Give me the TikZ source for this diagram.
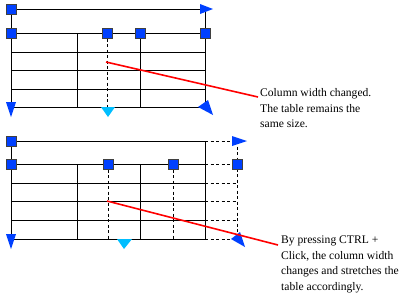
\documentclass[tikz,border=0pt]{standalone}
\usepackage{fontspec}
\setmainfont{Liberation Serif}
\usetikzlibrary{positioning}

\definecolor{gripblue}{RGB}{0,64,255}
\definecolor{lightblue}{RGB}{0,190,255}

\begin{document}
\begin{tikzpicture}[
    x=1pt, y=-1pt,
    grip/.style={
        draw=black!75,
        fill=gripblue,
        minimum size=10pt,
        inner sep=0pt,
        line width=0.8pt
    },
    gridline/.style={line width=0.8pt},
    extline/.style={line width=0.8pt, dash pattern=on 3pt off 2.5pt},
    pointer/.style={red, line width=1.6pt},
    note/.style={
        font=\fontsize{11.6}{15.4}\selectfont,
        align=left,
        inner sep=0pt,
        anchor=north west
    }
]
\useasboundingbox (0,0) rectangle (412,295);

% TABLE 1 - Column width changed, same size
\draw[gridline] (11,9) rectangle (205,107);
\foreach \y in {33,52,70,89}
    \draw[gridline] (11,\y) -- (205,\y);
\draw[gridline] (77,33) -- (77,107);
\draw[gridline] (140,33) -- (140,107);
\draw[extline] (107,33) -- (107,107);

% Table 1 - Grips
\node[grip] (topA) at (11,9) {};
\node[grip] (headA) at (11,33) {};
\node[grip] (colA) at (107,33) {};
\node[grip] (colB) at (140,33) {};
\node[grip] (endA) at (205,33) {};

% Table 1 - Arrow grips
\fill[gripblue] (200,4) -- (213,9) -- (200,14) -- cycle;
\fill[gripblue] (6,102) -- (16,102) -- (11,117) -- cycle;
\fill[lightblue] (101,107) -- (115,107) -- (108,117) -- cycle;
\fill[gripblue] (198,107) -- (208,100) -- (213,115) -- cycle;

% Table 1 - Pointer
\coordinate (startA) at (106,62);
\coordinate (tipA) at (258,97);
\draw[pointer] (startA) -- (tipA);
\node[note] (noteA) at (260,88.5) {Column width changed.\\The table remains the\\same size.};


% TABLE 2 - CTRL + Click, table stretched
\draw[gridline] (11,141) rectangle (205,239);
\foreach \y in {164,183,201,220}
    \draw[gridline] (11,\y) -- (205,\y);
\draw[gridline] (77,164) -- (77,239);
\draw[gridline] (140,164) -- (140,239);
\draw[extline] (108,164) -- (108,239);
\draw[extline] (173,164) -- (173,239);

% Table 2 - Stretched part
\foreach \y in {141,164,183,201,220,239}
    \draw[extline] (205,\y) -- (237,\y);
\draw[extline] (237,141) -- (237,239);

% Table 2 - Grips
\node[grip] (topB) at (11,141) {};
\node[grip] (headB) at (11,164) {};
\node[grip] (colC) at (108,164) {};
\node[grip] (colD) at (173,164) {};
\node[grip] (endB) at (237,164) {};

% Table 2 - Arrow grips
\fill[gripblue] (232,136) -- (247,141) -- (232,146) -- cycle;
\fill[gripblue] (6,234) -- (16,234) -- (11,249) -- cycle;
\fill[lightblue] (117,239) -- (132,239) -- (124,249) -- cycle;
\fill[gripblue] (231,239) -- (240,232) -- (245,247) -- cycle;

% Table 2 - Pointer
\coordinate (startB) at (107,201);
\coordinate (tipB) at (278,245);
\draw[pointer] (startB) -- (tipB);
\node[note] (noteB) at (281,236) {By pressing CTRL +\\Click, the column width\\changes and stretches the\\table accordingly.};

\end{tikzpicture}
\end{document}
